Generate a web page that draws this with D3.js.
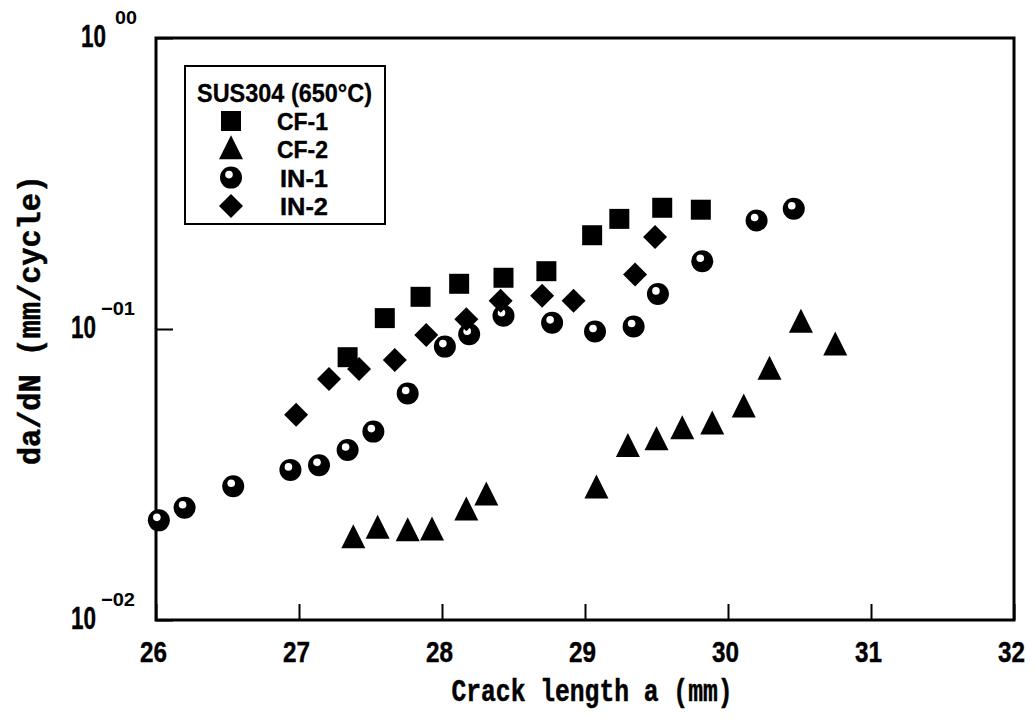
<!DOCTYPE html>
<html>
<head>
<meta charset="utf-8">
<script src="https://cdn.jsdelivr.net/npm/d3@7"></script>
<style>
  body { margin: 0; background: #fff; }
  svg { display: block; }
  .tick text { font-family: "Liberation Sans Narrow", "Liberation Sans", Arial, sans-serif; font-weight: bold; }
</style>
</head>
<body>
<div id="chart"></div>
<script>
// data: crack length a (mm) and da/dN (mm/cycle)
const cf1A = [27.34, 27.60, 27.85, 28.12, 28.43, 28.73, 29.05, 29.24, 29.54, 29.81];
const cf1V = [0.080, 0.109, 0.129, 0.143, 0.150, 0.158, 0.210, 0.239, 0.261, 0.257];

const cf2A = [27.38, 27.55, 27.76, 27.93, 28.17, 28.31, 29.08, 29.30, 29.50, 29.68, 29.89, 30.11, 30.29, 30.51, 30.75];
const cf2V = [0.0191, 0.0206, 0.0202, 0.0203, 0.0238, 0.0268, 0.0283, 0.0393, 0.0415, 0.0452, 0.047, 0.0537, 0.0724, 0.105, 0.0877];

const in1A = [26.02, 26.20, 26.54, 26.94, 27.14, 27.34, 27.52, 27.76, 28.02, 28.19, 28.43, 28.77, 29.07, 29.34, 29.51, 29.82, 30.20, 30.46];
const in1V = [0.022, 0.0243, 0.0288, 0.0328, 0.034, 0.0384, 0.0444, 0.060, 0.087, 0.096, 0.111, 0.105, 0.098, 0.102, 0.132, 0.171, 0.236, 0.259];

const in2A = [26.98, 27.21, 27.42, 27.67, 27.89, 28.17, 28.41, 28.70, 28.92, 29.35, 29.49];
const in2V = [0.0507, 0.0673, 0.0728, 0.0782, 0.0954, 0.108, 0.125, 0.130, 0.125, 0.154, 0.207];

const xTicks = [26, 27, 28, 29, 30, 31, 32];
const yTicks = [0.01, 0.1, 1];
const yTickExp = ["\u221202", "\u221201", "00"];
const legendTitle = "SUS304 (650\u00B0C)";
const seriesNames = ["CF-1", "CF-2", "IN-1", "IN-2"];

const width = 1035, height = 722;
const margin = { top: 38, right: 21, bottom: 102, left: 156 };
const plotW = width - margin.left - margin.right;
const plotH = height - margin.top - margin.bottom;

const svg = d3.select('#chart')
    .append('svg')
    .attr('width', width)
    .attr('height', height);

const g = svg.append('g')
    .attr('transform', `translate(${margin.left},${margin.top})`);

const x = d3.scaleLinear().domain([26, 32]).range([0, plotW]);
const y = d3.scaleLog().domain([0.01, 1]).range([plotH, 0]);

// frame
g.append('rect')
    .attr('width', plotW)
    .attr('height', plotH)
    .attr('fill', 'none')
    .attr('stroke', '#000')
    .attr('stroke-width', 3);

// x axis, inward ticks
const xAxis = g.append('g')
    .attr('transform', `translate(0,${plotH})`)
    .call(d3.axisBottom(x).tickValues(xTicks).tickSize(-16).tickPadding(21).tickFormat(d3.format('d')));
xAxis.select('.domain').remove();
xAxis.selectAll('line').attr('stroke-width', 2);
xAxis.selectAll('text')
    .attr('font-size', 29)
    .attr('fill', '#000')
    .attr('stroke', '#000')
    .attr('stroke-width', 0.4)
    .attr('dx', -3)
    .attr('textLength', 27)
    .attr('lengthAdjust', 'spacingAndGlyphs');

// y axis, inward ticks, labels drawn as 10 with superscript exponent
const yAxis = g.append('g')
    .call(d3.axisLeft(y).tickValues(yTicks).tickSize(-17).tickFormat(''));
yAxis.select('.domain').remove();
yAxis.selectAll('line').attr('stroke-width', 2);

const yLab = g.append('g').attr('class', 'ylabels');
yTicks.forEach((t, i) => {
    yLab.append('text')
        .attr('x', i === 2 ? -19 : -21)
        .attr('y', y(t) - 14)
        .attr('text-anchor', 'end')
        .attr('font-family', '"Liberation Sans Narrow", "Liberation Sans", Arial, sans-serif')
        .attr('font-weight', 'bold')
        .attr('font-size', 19)
        .attr('textLength', i === 2 ? 22 : 34)
        .attr('lengthAdjust', 'spacingAndGlyphs')
        .text(yTickExp[i]);
    yLab.append('text')
        .attr('x', i === 2 ? -50 : -60)
        .attr('y', y(t) + 9)
        .attr('text-anchor', 'end')
        .attr('font-family', '"Liberation Sans Narrow", "Liberation Sans", Arial, sans-serif')
        .attr('font-weight', 'bold')
        .attr('font-size', 31)
        .attr('stroke', '#000')
        .attr('stroke-width', 0.4)
        .attr('textLength', 25)
        .attr('lengthAdjust', 'spacingAndGlyphs')
        .text('10');
});

// axis titles
svg.append('text')
    .attr('x', 592)
    .attr('y', 701)
    .attr('text-anchor', 'middle')
    .attr('font-family', '"Liberation Mono", "DejaVu Sans Mono", monospace')
    .attr('font-weight', 'bold')
    .attr('font-size', 32)
    .attr('stroke', '#000')
    .attr('stroke-width', 0.5)
    .attr('textLength', 281)
    .attr('lengthAdjust', 'spacingAndGlyphs')
    .text('Crack length a (mm)');

svg.append('text')
    .attr('transform', 'translate(40,320) rotate(-90)')
    .attr('text-anchor', 'middle')
    .attr('font-family', '"Liberation Mono", "DejaVu Sans Mono", monospace')
    .attr('font-weight', 'bold')
    .attr('font-size', 32)
    .attr('stroke', '#000')
    .attr('stroke-width', 0.5)
    .attr('textLength', 290)
    .attr('lengthAdjust', 'spacingAndGlyphs')
    .text('da/dN  (mm/cycle)');

// marker shapes
const squarePath = 'M-10,-10H10V10H-10Z';
const trianglePath = 'M0,-14L12,10H-12Z';
const diamondPath = 'M0,-12L12,0L0,12L-12,0Z';

function drawSymbol(sel, kind) {
    if (kind === 'circle') {
        sel.append('circle').attr('r', 11).attr('fill', '#000');
        sel.append('circle').attr('cx', -2).attr('cy', -3).attr('r', 3.8).attr('fill', '#fff');
    } else {
        const p = kind === 'square' ? squarePath : kind === 'triangle' ? trianglePath : diamondPath;
        sel.append('path').attr('d', p).attr('fill', '#000');
    }
}

const series = [
    { a: cf1A, v: cf1V, kind: 'square' },
    { a: cf2A, v: cf2V, kind: 'triangle' },
    { a: in1A, v: in1V, kind: 'circle' },
    { a: in2A, v: in2V, kind: 'diamond' }
];

series.forEach(s => {
    const pts = s.a.map((a, i) => ({ a: a, v: s.v[i] }));
    g.selectAll(null)
        .data(pts)
        .enter()
        .append('g')
        .attr('transform', d => `translate(${x(d.a)},${y(d.v)})`)
        .each(function () { drawSymbol(d3.select(this), s.kind); });
});

// legend
const lg = svg.append('g');
lg.append('rect')
    .attr('x', 185).attr('y', 66)
    .attr('width', 200).attr('height', 158)
    .attr('fill', '#fff')
    .attr('stroke', '#000')
    .attr('stroke-width', 2);
lg.append('text')
    .attr('x', 197).attr('y', 102)
    .attr('font-family', '"Liberation Sans Narrow", "Liberation Sans", Arial, sans-serif')
    .attr('font-weight', 'bold')
    .attr('font-size', 26)
    .attr('stroke', '#000')
    .attr('stroke-width', 0.3)
    .attr('textLength', 175)
    .attr('lengthAdjust', 'spacingAndGlyphs')
    .text(legendTitle);
seriesNames.forEach((name, i) => {
    const cy = 121 + i * 28.3;
    const sg = lg.append('g').attr('transform', `translate(231,${cy})`);
    drawSymbol(sg, series[i].kind);
    lg.append('text')
        .attr('x', i < 2 ? 277 : 280).attr('y', cy + 9)
        .attr('font-family', '"Liberation Sans Narrow", "Liberation Sans", Arial, sans-serif')
        .attr('font-weight', 'bold')
        .attr('font-size', 24)
        .attr('stroke', '#000')
        .attr('stroke-width', 0.4)
        .attr('textLength', i < 2 ? 51 : 48)
        .attr('lengthAdjust', 'spacingAndGlyphs')
        .text(name);
});
</script>
</body>
</html>
